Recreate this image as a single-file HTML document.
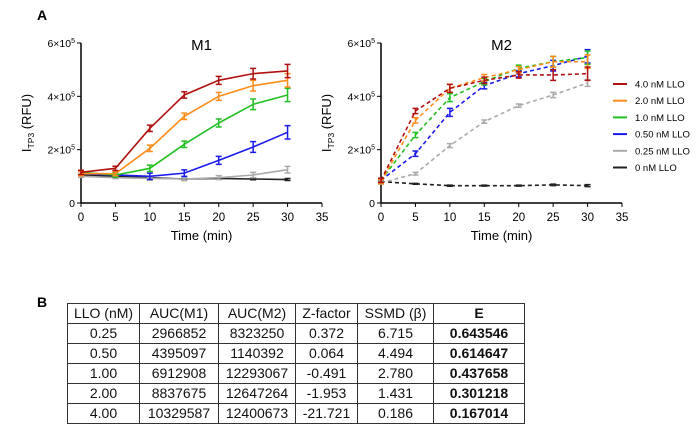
<!DOCTYPE html>
<html><head><meta charset="utf-8"><style>
body{margin:0;background:#fff;font-family:"Liberation Sans",Arial,sans-serif}
svg text{font-family:"Liberation Sans",Arial,sans-serif}
table{position:absolute;left:67px;top:303px;border-collapse:collapse;font-size:14px;color:#111}
td{border:1px solid #333;height:19px;padding:0;text-align:center;line-height:19px}
</style></head><body>
<svg id="chart" width="700" height="431" style="position:absolute;left:0;top:0">
<text x="37" y="20" font-size="14" font-weight="bold">A</text>
<text x="37" y="307" font-size="14" font-weight="bold">B</text>
</svg>
<table>
<tr><td style="width:71px">LLO (nM)</td><td style="width:78px">AUC(M1)</td><td style="width:76px">AUC(M2)</td><td style="width:61px">Z-factor</td><td style="width:75px">SSMD (β)</td><td style="width:90px"><b>E</b></td></tr>
<tr><td>0.25</td><td>2966852</td><td>8323250</td><td>0.372</td><td>6.715</td><td><b>0.643546</b></td></tr>
<tr><td>0.50</td><td>4395097</td><td>1140392</td><td>0.064</td><td>4.494</td><td><b>0.614647</b></td></tr>
<tr><td>1.00</td><td>6912908</td><td>12293067</td><td>-0.491</td><td>2.780</td><td><b>0.437658</b></td></tr>
<tr><td>2.00</td><td>8837675</td><td>12647264</td><td>-1.953</td><td>1.431</td><td><b>0.301218</b></td></tr>
<tr><td>4.00</td><td>10329587</td><td>12400673</td><td>-21.721</td><td>0.186</td><td><b>0.167014</b></td></tr>
</table>
<script>
const times=[0,5,10,15,20,25,30];
const xTicks=[0,5,10,15,20,25,30,35];
const yTicks=[0,2,4,6];
const labels=["4.0 nM LLO","2.0 nM LLO","1.0 nM LLO","0.50 nM LLO","0.25 nM LLO","0 nM LLO"];
const colors=["#b01010","#ff8c1a","#22c022","#1a1aee","#aaaaaa","#222222"];
const m1Red=[1.15,1.3,2.8,4.05,4.6,4.85,4.95];
const m1Orange=[1.1,1.1,2.05,3.25,4.0,4.4,4.6];
const m1Green=[1.15,1.05,1.3,2.2,3.0,3.7,4.05];
const m1Blue=[1.1,1.05,1.0,1.12,1.6,2.1,2.65];
const m1Gray=[1.0,0.95,0.92,0.9,0.95,1.05,1.25];
const m1Black=[1.05,1.0,0.95,0.9,0.92,0.9,0.88];
const m1Err=[0.08,0.08,0.12,0.12,0.15,0.2,0.25];
const m2Red=[0.85,3.45,4.3,4.6,4.8,4.8,4.85];
const m2Orange=[0.8,3.1,4.3,4.7,5.0,5.3,5.3];
const m2Green=[0.85,2.55,3.95,4.55,5.05,5.3,5.45];
const m2Blue=[0.85,1.85,3.4,4.4,4.85,5.15,5.5];
const m2Gray=[0.75,1.1,2.15,3.05,3.65,4.05,4.5];
const m2Black=[0.8,0.72,0.65,0.65,0.65,0.68,0.65];
const m2Err=[0.08,0.1,0.15,0.12,0.12,0.2,0.25];
const NS="http://www.w3.org/2000/svg";
const svg=document.getElementById('chart');
function mk(tag,attrs,parent){const e=document.createElementNS(NS,tag);for(const k in attrs)e.setAttribute(k,attrs[k]);(parent||svg).appendChild(e);return e;}
function panel(x0,title,series,err,dashed,name){
  const g=mk('g',{});
  
  
  const X=t=>x0+t*(241/35), Y=v=>203-v*26.67;
  mk('line',{x1:x0,y1:Y(0),x2:X(35),y2:Y(0),stroke:'#000','stroke-width':1.5},g);
  mk('line',{x1:x0,y1:Y(0),x2:x0,y2:Y(6),stroke:'#000','stroke-width':1.5},g);
  xTicks.forEach(t=>{mk('line',{x1:X(t),y1:Y(0),x2:X(t),y2:Y(0)+4,stroke:'#000'},g);
    const tx=mk('text',{x:X(t),y:Y(0)+18,'font-size':11.5,'text-anchor':'middle'},g);tx.textContent=t;});
  yTicks.forEach(v=>{mk('line',{x1:x0-4,y1:Y(v),x2:x0,y2:Y(v),stroke:'#000'},g);
    const tx=mk('text',{x:x0-6,y:Y(v)+4,'font-size':10.5,'text-anchor':'end'},g);
    tx.innerHTML=v===0?'0':v+'×10<tspan dy="-4" font-size="7">5</tspan>';});
  const xt=mk('text',{x:X(17.5),y:Y(0)+37,'font-size':13,'text-anchor':'middle'},g);xt.textContent='Time (min)';
  const tt=mk('text',{x:X(17.5),y:50,'font-size':15,'text-anchor':'middle'},g);tt.textContent=title;
  const yl=mk('text',{x:x0-50,y:123,'font-size':13,'text-anchor':'middle',transform:`rotate(-90 ${x0-50} 123)`},g);
  yl.innerHTML='I<tspan font-size="8.5" dy="3">TP3</tspan><tspan dy="-3"> (RFU)</tspan>';
  for(let s=series.length-1;s>=0;s--){const d=series[s];
    const p=mk('polyline',{points:d.map((v,i)=>X(times[i])+','+Y(v)).join(' '),fill:'none',stroke:colors[s],'stroke-width':1.6},g);
    if(dashed)p.setAttribute('stroke-dasharray','4,3');
    
    d.forEach((v,i)=>{const e=err[i]*(s<4?1:(s===4?0.5:0.15));
      const b=mk('path',{d:`M${X(times[i])} ${Y(v+e)}V${Y(v-e)}M${X(times[i])-3} ${Y(v+e)}h6M${X(times[i])-3} ${Y(v-e)}h6`,stroke:colors[s],'stroke-width':1.5,fill:'none'},g);
      });}
}
panel(81,'M1',[m1Red,m1Orange,m1Green,m1Blue,m1Gray,m1Black],m1Err,false,'chart-m1');
panel(381,'M2',[m2Red,m2Orange,m2Green,m2Blue,m2Gray,m2Black],m2Err,true,'chart-m2');
const lg=mk('g',{});


labels.forEach((l,i)=>{const y=84+i*16.7;
  mk('line',{x1:613,y1:y,x2:627,y2:y,stroke:colors[i],'stroke-width':2},lg);
  const t=mk('text',{x:635,y:y+3.5,'font-size':9.5},lg);t.textContent=l;
  });
</script>
</body></html>
